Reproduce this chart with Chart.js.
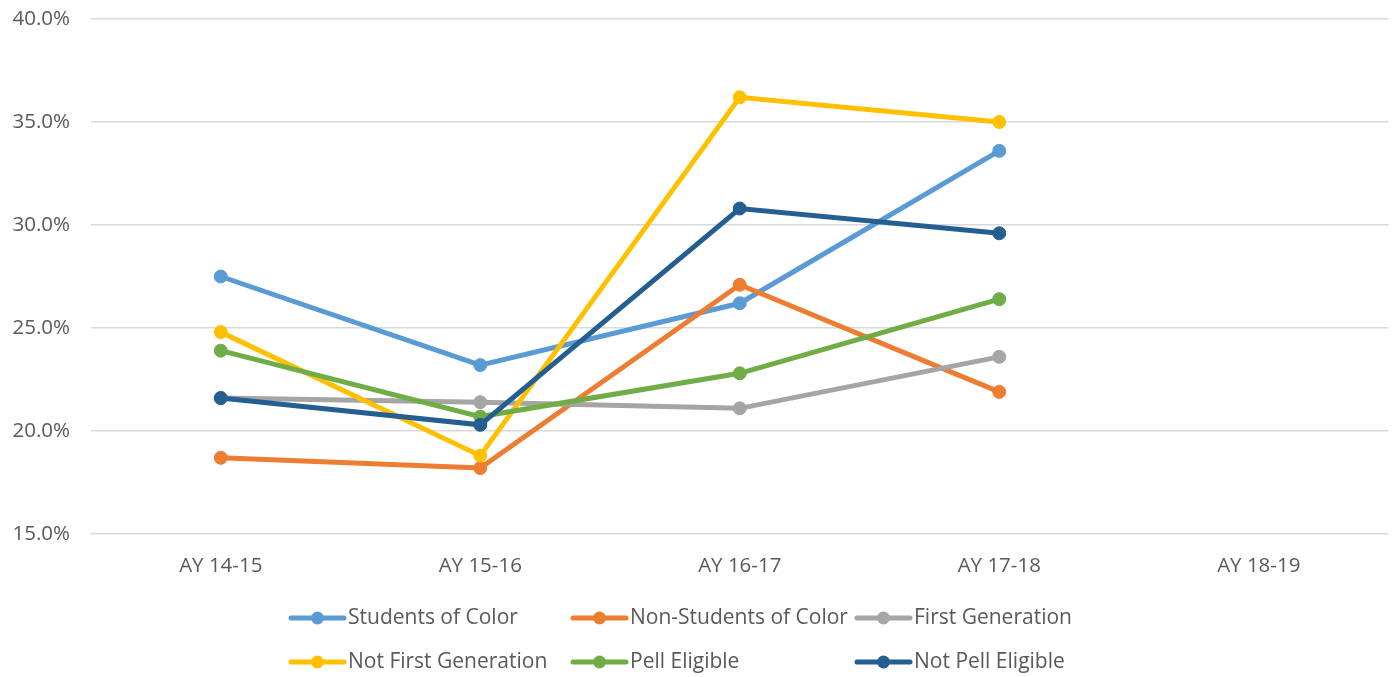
<!DOCTYPE html>
<html>
<head>
<meta charset="utf-8">
<script src="https://cdn.jsdelivr.net/npm/chart.js@4/dist/chart.umd.min.js"></script>
<style>
  html, body { margin: 0; padding: 0; background: #ffffff; }
  #wrap { width: 1396px; height: 677px; position: relative; }
</style>
</head>
<body>
<div id="wrap"><canvas id="c"></canvas></div>
<script>
// Academic years on the category axis
const years = ['AY 14-15', 'AY 15-16', 'AY 16-17', 'AY 17-18', 'AY 18-19'];

// Rates per student group (percent); AY 18-19 not yet reported
const studentsOfColor     = [27.5, 23.2, 26.2, 33.6, null];
const nonStudentsOfColor  = [18.7, 18.2, 27.1, 21.9, null];
const firstGeneration     = [21.6, 21.4, 21.1, 23.6, null];
const notFirstGeneration  = [24.8, 18.8, 36.2, 35.0, null];
const pellEligible        = [23.9, 20.7, 22.8, 26.4, null];
const notPellEligible     = [21.6, 20.3, 30.8, 29.6, null];

const groupNames = ['Students of Color', 'Non-Students of Color', 'First Generation',
                    'Not First Generation', 'Pell Eligible', 'Not Pell Eligible'];
const groupValues = [studentsOfColor, nonStudentsOfColor, firstGeneration,
                     notFirstGeneration, pellEligible, notPellEligible];
const groupColors = ['#5B9BD5', '#ED7D31', '#A5A5A5', '#FFC000', '#70AD47', '#255E91'];

// Y axis range and step
const yMin = 15, yMax = 40, yStep = 5;

const FONT = '"Open Sans", "Noto Sans", sans-serif';
const TEXT = '#595959';

const datasets = groupNames.map((name, i) => ({
  label: name,
  data: groupValues[i],
  borderColor: groupColors[i],
  backgroundColor: groupColors[i],
  pointBackgroundColor: groupColors[i],
  pointBorderColor: groupColors[i],
  borderWidth: 5,
  pointRadius: 6.5,
  pointBorderWidth: 1,
  tension: 0,
  spanGaps: false,
  // later series sit on top of earlier ones
  order: groupNames.length - i
}));

// Two-row, three-column legend under the axis
const gridLegend = {
  id: 'gridLegend',
  afterDraw(chart) {
    const ctx = chart.ctx;
    const cols = [289, 571, 855];
    const rows = [618, 662];
    ctx.save();
    ctx.font = '21px ' + FONT;
    ctx.textBaseline = 'middle';
    ctx.textAlign = 'left';
    chart.data.datasets.forEach((ds, i) => {
      const x = cols[i % 3];
      const y = rows[Math.floor(i / 3)];
      ctx.strokeStyle = ds.borderColor;
      ctx.lineWidth = 5;
      ctx.lineCap = 'round';
      ctx.beginPath();
      ctx.moveTo(x + 2, y);
      ctx.lineTo(x + 55, y);
      ctx.stroke();
      ctx.fillStyle = ds.borderColor;
      ctx.beginPath();
      ctx.arc(x + 28.5, y, 6.5, 0, Math.PI * 2);
      ctx.fill();
      ctx.fillStyle = TEXT;
      ctx.fillText(ds.label, x + 59, y);
    });
    ctx.restore();
  }
};

new Chart(document.getElementById('c'), {
  type: 'line',
  data: { labels: years, datasets },
  plugins: [gridLegend],
  options: {
    responsive: true,
    maintainAspectRatio: false,
    animation: false,
    layout: { padding: { left: 0, right: 5, top: 19, bottom: 93 } },
    plugins: {
      legend: { display: false },
      tooltip: { enabled: false }
    },
    scales: {
      x: {
        offset: true,
        grid: { display: false, drawTicks: false },
        border: { display: false },
        ticks: { color: TEXT, font: { family: FONT, size: 20.5 }, padding: 20, maxRotation: 0 },
        afterFit(s) { s.height = 50; }
      },
      y: {
        min: yMin,
        max: yMax,
        grid: { color: '#D9D9D9', lineWidth: 1.5, drawTicks: false },
        border: { display: false },
        ticks: {
          stepSize: yStep,
          color: TEXT,
          font: { family: FONT, size: 20.5 },
          padding: 21,
          callback: v => v.toFixed(1) + '%'
        },
        afterFit(s) {
          s.width = 91;
          s.paddingTop = 10;
          s.paddingBottom = 10;
        }
      }
    }
  }
});
</script>
</body>
</html>
